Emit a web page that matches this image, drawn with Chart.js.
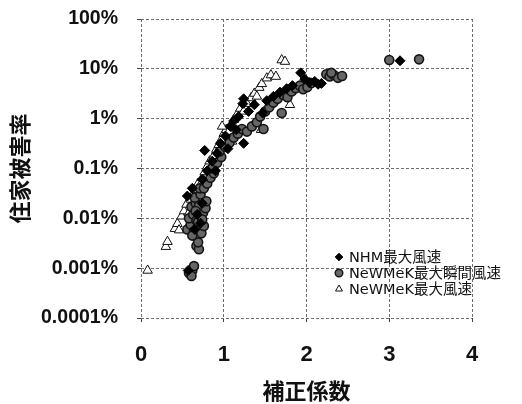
<!DOCTYPE html>
<html>
<head>
<meta charset="utf-8">
<script src="https://cdn.jsdelivr.net/npm/chart.js@4/dist/chart.umd.min.js"></script>
<style>
  html, body { margin: 0; padding: 0; background: #fff; }
  #wrap { width: 522px; height: 404px; }
</style>
</head>
<body>
<div id="wrap"><canvas id="c" width="522" height="404"></canvas></div>
<script>
// Series names
const seriesNames = ['NHM最大風速', 'NeWMeK最大瞬間風速', 'NeWMeK最大風速'];

// NHM maximum wind speed: correction factor vs. house damage ratio (%)
const nhmX = [0.57, 0.56, 0.62, 0.68, 0.74, 0.72, 0.77, 0.74, 0.80, 0.86, 0.92, 0.96, 1.02, 1.08, 1.12, 1.18,
              1.24, 1.23, 1.24, 1.30, 1.37, 1.47, 1.52, 1.60, 1.68, 1.76, 1.83, 1.93, 1.98, 2.04, 2.10, 2.14, 2.18, 3.13,
              0.65, 0.90, 1.05, 1.15];
const nhmY = [0.0009, 0.028, 0.04, 0.012, 0.02, 0.008, 0.23, 0.06, 0.09, 0.14, 0.2, 0.32, 0.45, 0.7, 0.9, 1.1,
              0.32, 2.0, 2.5, 1.4, 1.9, 1.3, 2.3, 2.8, 3.4, 4.0, 4.6, 8.3, 6.2, 5.3, 5.6, 4.9, 5.1, 14.5,
              0.006, 0.09, 0.25, 0.6];

// NeWMeK maximum gust
const gustX = [0.58, 0.62, 0.64, 0.61, 0.67, 0.70, 0.69,
               0.56, 0.60, 0.64, 0.68, 0.73, 0.76, 0.58, 0.63, 0.67, 0.71, 0.75, 0.61, 0.66, 0.70, 0.78, 0.65, 0.72,
               0.62, 0.69, 0.74, 0.66, 0.79, 0.71,
               0.76, 0.80, 0.84, 0.88, 0.86, 0.92, 0.97, 0.95, 1.02, 1.07, 1.12, 1.17, 1.22, 1.28, 1.34, 1.40, 1.48,
               1.44, 1.50, 1.55, 1.60, 1.65, 1.70, 1.72, 1.77, 1.82, 1.87, 1.92, 1.96, 2.01, 2.06,
               2.24, 2.28, 2.33, 2.38, 2.43, 2.30, 3.00, 3.36];
const gustY = [0.0008, 0.0009, 0.0011, 0.0007, 0.0028, 0.0024, 0.0033,
               0.006, 0.0075, 0.0055, 0.0065, 0.005, 0.007, 0.01, 0.012, 0.009, 0.011, 0.013, 0.017, 0.02, 0.018, 0.016, 0.026, 0.03,
               0.0045, 0.0085, 0.0095, 0.014, 0.022, 0.04,
               0.04, 0.05, 0.065, 0.08, 0.1, 0.13, 0.17, 0.22, 0.27, 0.33, 0.42, 0.5, 0.62, 0.55, 0.7, 0.85, 0.62,
               1.1, 1.4, 1.7, 2.1, 2.5, 1.3, 3.0, 2.7, 3.5, 4.1, 4.6, 3.9, 4.3, 5.2,
               7.8, 7.0, 7.5, 6.6, 7.2, 8.3, 15, 15.5];

// NeWMeK maximum wind speed
const windX = [0.08, 0.30, 0.32, 0.41, 0.44, 0.46, 0.49, 0.52, 0.55, 0.58, 0.60, 0.63, 0.66, 0.69, 0.71, 0.74,
               0.77, 0.80, 0.83, 0.86, 0.88, 0.91, 0.94, 0.97, 1.00, 1.03, 1.06, 1.09, 1.12, 1.16, 1.20, 1.24,
               1.28, 1.33, 1.37, 1.40, 1.43, 1.46, 1.52, 1.57, 1.63, 1.45, 1.80, 1.70, 1.74, 1.10, 0.98];
const windY = [0.0009, 0.0027, 0.0034, 0.0062, 0.0078, 0.0058, 0.011, 0.014, 0.019, 0.013, 0.024, 0.03, 0.038, 0.05, 0.045, 0.065,
               0.085, 0.11, 0.14, 0.12, 0.18, 0.24, 0.3, 0.38, 0.5, 0.6, 0.55, 0.75, 0.95, 1.2, 1.6, 1.4,
               2.0, 2.6, 3.2, 2.8, 4.2, 5.0, 6.5, 7.5, 7.0, 0.6, 1.9, 15, 14, 0.35, 0.7];

// Axes
const xTickValues = [0, 1, 2, 3, 4];
const yTickValues = [0.0001, 0.001, 0.01, 0.1, 1, 10, 100];
const yTickLabels = ['0.0001%', '0.001%', '0.01%', '0.1%', '1%', '10%', '100%'];
const xTitle = '補正係数';
const yTitle = '住家被害率';

const toPoints = (xs, ys) => xs.map((x, i) => ({ x: x, y: ys[i] }));

const markerStyles = [
  { pointStyle: 'rectRot', radius: 5, bg: '#000', border: '#000', bw: 1 },
  { pointStyle: 'circle', radius: 4.5, bg: '#666', border: '#141414', bw: 1.6 },
  { pointStyle: 'triangle', radius: 5.5, bg: '#fff', border: '#111', bw: 1 }
];
const seriesData = [toPoints(nhmX, nhmY), toPoints(gustX, gustY), toPoints(windX, windY)];

// Legend drawn inside the plot, lower right
const insideLegend = {
  id: 'insideLegend',
  afterDatasetsDraw(chart) {
    const ctx = chart.ctx;
    const x0 = 339, rows = [257, 273, 289];
    ctx.save();
    seriesNames.forEach((name, i) => {
      const m = markerStyles[i];
      const r = m.pointStyle === 'triangle' ? 4 : 3.8;
      ctx.fillStyle = m.bg;
      ctx.strokeStyle = m.border;
      ctx.lineWidth = m.pointStyle === 'circle' ? 1.4 : 1;
      Chart.helpers.drawPoint(ctx, { pointStyle: m.pointStyle, radius: r, rotation: 0, borderWidth: ctx.lineWidth }, x0, rows[i]);
      ctx.fillStyle = '#111';
      ctx.font = '14.5px "DejaVu Sans", "Noto Sans CJK JP", sans-serif';
      ctx.textBaseline = 'middle';
      ctx.textAlign = 'left';
      ctx.fillText(name, x0 + 10, rows[i] + 1);
    });
    ctx.restore();
  }
};

new Chart(document.getElementById('c'), {
  type: 'scatter',
  data: {
    datasets: seriesData.map((d, i) => ({
      label: seriesNames[i],
      data: d,
      pointStyle: markerStyles[i].pointStyle,
      pointRadius: markerStyles[i].radius,
      backgroundColor: markerStyles[i].bg,
      borderColor: markerStyles[i].border,
      borderWidth: markerStyles[i].bw,
      order: i
    }))
  },
  options: {
    responsive: false,
    animation: false,
    devicePixelRatio: 1,
    layout: { padding: { left: 0, top: 19, right: 50, bottom: 0 } },
    plugins: {
      legend: { display: false },
      tooltip: { enabled: false }
    },
    scales: {
      x: {
        type: 'linear',
        min: 0,
        max: 4,
        afterBuildTicks: (s) => { s.ticks = xTickValues.map(v => ({ value: v })); },
        afterFit: (s) => { s.height = 86; s.paddingLeft = 0; s.paddingRight = 0; },
        ticks: {
          color: '#111',
          padding: 20,
          maxRotation: 0,
          font: { family: '"Liberation Sans", Arial, sans-serif', size: 22, weight: 'bold' }
        },
        grid: { color: '#6e6e6e', lineWidth: 1, tickLength: 4, tickColor: '#444', tickBorderDash: [] },
        border: { display: false, dash: [3, 2] },
        title: {
          display: true,
          text: xTitle,
          color: '#111',
          padding: { top: 2, bottom: 0 },
          font: { family: '"Noto Sans CJK JP", sans-serif', size: 22, weight: 'bold' }
        }
      },
      y: {
        type: 'logarithmic',
        min: 0.0001,
        max: 100,
        afterBuildTicks: (s) => { s.ticks = yTickValues.map(v => ({ value: v })); },
        afterFit: (s) => { s.width = 141; s.paddingTop = 0; s.paddingBottom = 0; },
        ticks: {
          color: '#111',
          padding: 19,
          callback: (v) => { const i = yTickValues.findIndex(t => Math.abs(Math.log10(t) - Math.log10(v)) < 1e-6); return i >= 0 ? yTickLabels[i] : ''; },
          font: { family: '"Liberation Sans", Arial, sans-serif', size: 19.5, weight: 'bold' }
        },
        grid: { color: '#6e6e6e', lineWidth: 1, tickLength: 4, tickColor: '#444', tickBorderDash: [] },
        border: { display: false, dash: [3, 2] },
        title: {
          display: true,
          text: yTitle,
          color: '#111',
          padding: { top: 6, bottom: 0 },
          font: { family: '"Noto Sans CJK JP", sans-serif', size: 22, weight: 'bold' }
        }
      }
    }
  },
  plugins: [insideLegend]
});
</script>
</body>
</html>
